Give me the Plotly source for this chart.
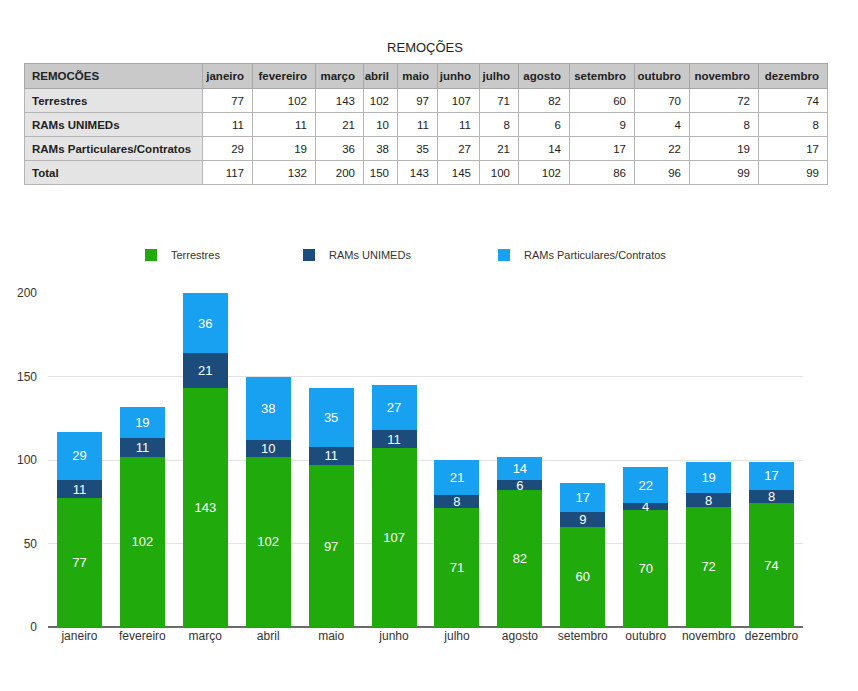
import plotly.graph_objects as go

months = ["janeiro", "fevereiro", "março", "abril", "maio", "junho", "julho",
          "agosto", "setembro", "outubro", "novembro", "dezembro"]
series_names = ["Terrestres", "RAMs UNIMEDs", "RAMs Particulares/Contratos"]
terrestres = [77, 102, 143, 102, 97, 107, 71, 82, 60, 70, 72, 74]
rams_unimeds = [11, 11, 21, 10, 11, 11, 8, 6, 9, 4, 8, 8]
rams_particulares = [29, 19, 36, 38, 35, 27, 21, 14, 17, 22, 19, 17]
totals = [117, 132, 200, 150, 143, 145, 100, 102, 86, 96, 99, 99]
table_title = "REMOÇÕES"
table_corner = "REMOCÕES"
y_ticks = [0, 50, 100, 150, 200]

colors = ["#21AA0B", "#1C4C7C", "#19A1F1"]
W, H = 858, 691
OFF = 8  # page body margin
FONT = "Liberation Sans, Arial, Helvetica, sans-serif"


def fx(px):
    return (px - OFF) / W


def fy(py):
    return 1 - (py - OFF) / H


fig = go.Figure()

# ---- table ----
nb = "\u00a0"
row_labels = series_names + ["Total"]
header_vals = [table_corner] + months
cell_cols = [[r.replace(" ", nb) for r in row_labels]]
for i in range(len(months)):
    cell_cols.append([terrestres[i], rams_unimeds[i], rams_particulares[i], totals[i]])
col_widths = [178, 50, 63, 48, 34, 40, 42, 39, 51, 65, 55, 69, 69]

fig.add_trace(go.Table(
    domain=dict(x=[fx(24), fx(827)], y=[fy(200), fy(63)]),
    columnwidth=col_widths,
    header=dict(values=header_vals, height=25, fill_color="#c9c9c9",
                line=dict(color="#a8a8a8", width=1),
                align=["left"] + ["right"] * 12,
                font=dict(family=FONT, size=11.5, color="#222", weight="bold")),
    cells=dict(values=cell_cols, height=24,
               fill_color=[["#e4e4e4"] * 4] + [["#ffffff"] * 4] * 12,
               line=dict(color="#b5b5b5", width=1),
               align=["left"] + ["right"] * 12,
               font=dict(family=FONT, size=11.5, color="#222",
                         weight=["bold"] + ["normal"] * 12)),
))

# ---- stacked bars ----
series = [terrestres, rams_unimeds, rams_particulares]
legend_ids = ["legend", "legend2", "legend3"]
for name, vals, col, lg in zip(series_names, series, colors, legend_ids):
    fig.add_trace(go.Bar(
        x=months, y=vals, name=name, marker=dict(color=col, line=dict(width=0)),
        text=vals, textposition="inside", insidetextanchor="middle",
        constraintext="none", textangle=0,
        textfont=dict(family=FONT, size=13, color="white"),
        hoverinfo="skip", legend=lg, showlegend=True,
    ))

leg_common = dict(orientation="h", yanchor="middle", y=fy(255),
                  xanchor="left", bgcolor="rgba(0,0,0,0)",
                  font=dict(family=FONT, size=11, color="#333"))

fig.update_layout(
    width=W, height=H,
    margin=dict(l=0, r=0, t=0, b=0, autoexpand=False),
    showlegend=True,
    paper_bgcolor="white", plot_bgcolor="white",
    barmode="stack", bargap=0.285,
    font=dict(family=FONT, color="#333"),
    title=dict(text=table_title, x=fx(425), xanchor="center", y=fy(47),
               yanchor="middle", automargin=False,
               font=dict(family=FONT, size=13, color="#222")),
    xaxis=dict(domain=[fx(48), fx(803)], showgrid=False, showline=False,
               automargin=False, ticks="", tickfont=dict(size=12, color="#333")),
    yaxis=dict(domain=[fy(627), fy(293)], range=[0, 200], automargin=False,
               tickvals=y_ticks, showgrid=True, gridcolor="#e2e2e2", gridwidth=1,
               zeroline=True, zerolinecolor="#6a6a6a", zerolinewidth=1.5,
               showline=False, ticks="", ticklabelstandoff=10,
               tickfont=dict(size=12, color="#333")),
    legend=dict(x=fx(131), **leg_common),
    legend2=dict(x=fx(289), **leg_common),
    legend3=dict(x=fx(484), **leg_common),
)

fig.write_html("out.html")
